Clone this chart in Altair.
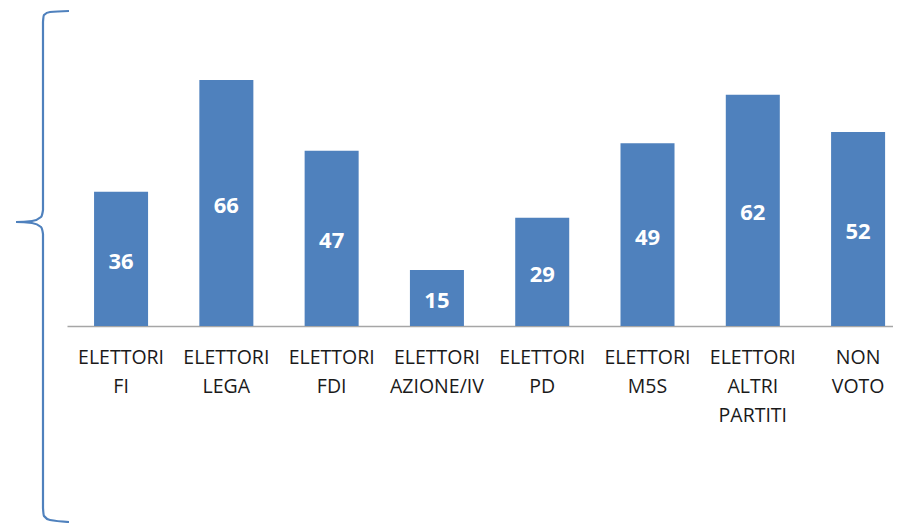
import altair as alt
import pandas as pd

categories = ["ELETTORI FI", "ELETTORI LEGA", "ELETTORI FDI", "ELETTORI AZIONE/IV",
              "ELETTORI PD", "ELETTORI M5S", "ELETTORI ALTRI PARTITI", "NON VOTO"]
values = [36, 66, 47, 15, 29, 49, 62, 52]

# decorative brace outline (pixel offsets relative to the plot area)
brace_x = [2, -17, -23, -24, -24, -26, -35, -51, -35, -26, -24, -24, -23, -17, 2]
brace_y = [-54, -53, -50, -43, 145, 152, 156, 157, 158, 162, 169, 443, 451, 455, 457]

df = pd.DataFrame({"cat": categories, "val": values})
brace = pd.DataFrame({"bx": brace_x, "by": brace_y, "o": list(range(len(brace_x)))})

BLUE = "#4F81BD"
FONT = "Open Sans"

x = alt.X("cat:N", sort=None, title=None,
          scale=alt.Scale(paddingInner=0.487, paddingOuter=0.166, align=0.774),
          axis=alt.Axis(labelExpr="split(datum.label, ' ')", labelAngle=0,
                        labelFont=FONT, labelFontSize=19.5, labelColor="#1a1a1a",
                        labelLineHeight=29, labelPadding=22, labelLimit=0,
                        labelOverlap=False, ticks=False, domainColor="#a6a6a6",
                        domainWidth=1.5, grid=False))
y = alt.Y("val:Q", scale=alt.Scale(domain=[0, 70]), axis=None, title=None)

bars = alt.Chart(df).mark_bar(color=BLUE).encode(x=x, y=y)

labels = alt.Chart(df).transform_calculate(mid="datum.val / 2").mark_text(
    color="white", font=FONT, fontSize=22, fontWeight="bold", baseline="middle", dy=3
).encode(x=alt.X("cat:N", sort=None), y=alt.Y("mid:Q"), text="val:Q")

brace_line = alt.Chart(brace).mark_line(color=BLUE, strokeWidth=2.2, interpolate="monotone").encode(
    x=alt.X("bx:Q", scale=None), y=alt.Y("by:Q", scale=None), order="o:Q")

chart = alt.layer(bars, labels, brace_line).properties(
    width=826, height=261,
    autosize=alt.AutoSizeParams(type="none"),
    padding={"left": 59, "top": 57, "right": 0, "bottom": 197},
).configure(background="white", view=alt.ViewConfig(stroke="transparent", strokeWidth=0))

chart.save("out.html", embed_options={"renderer": "svg", "actions": False})
